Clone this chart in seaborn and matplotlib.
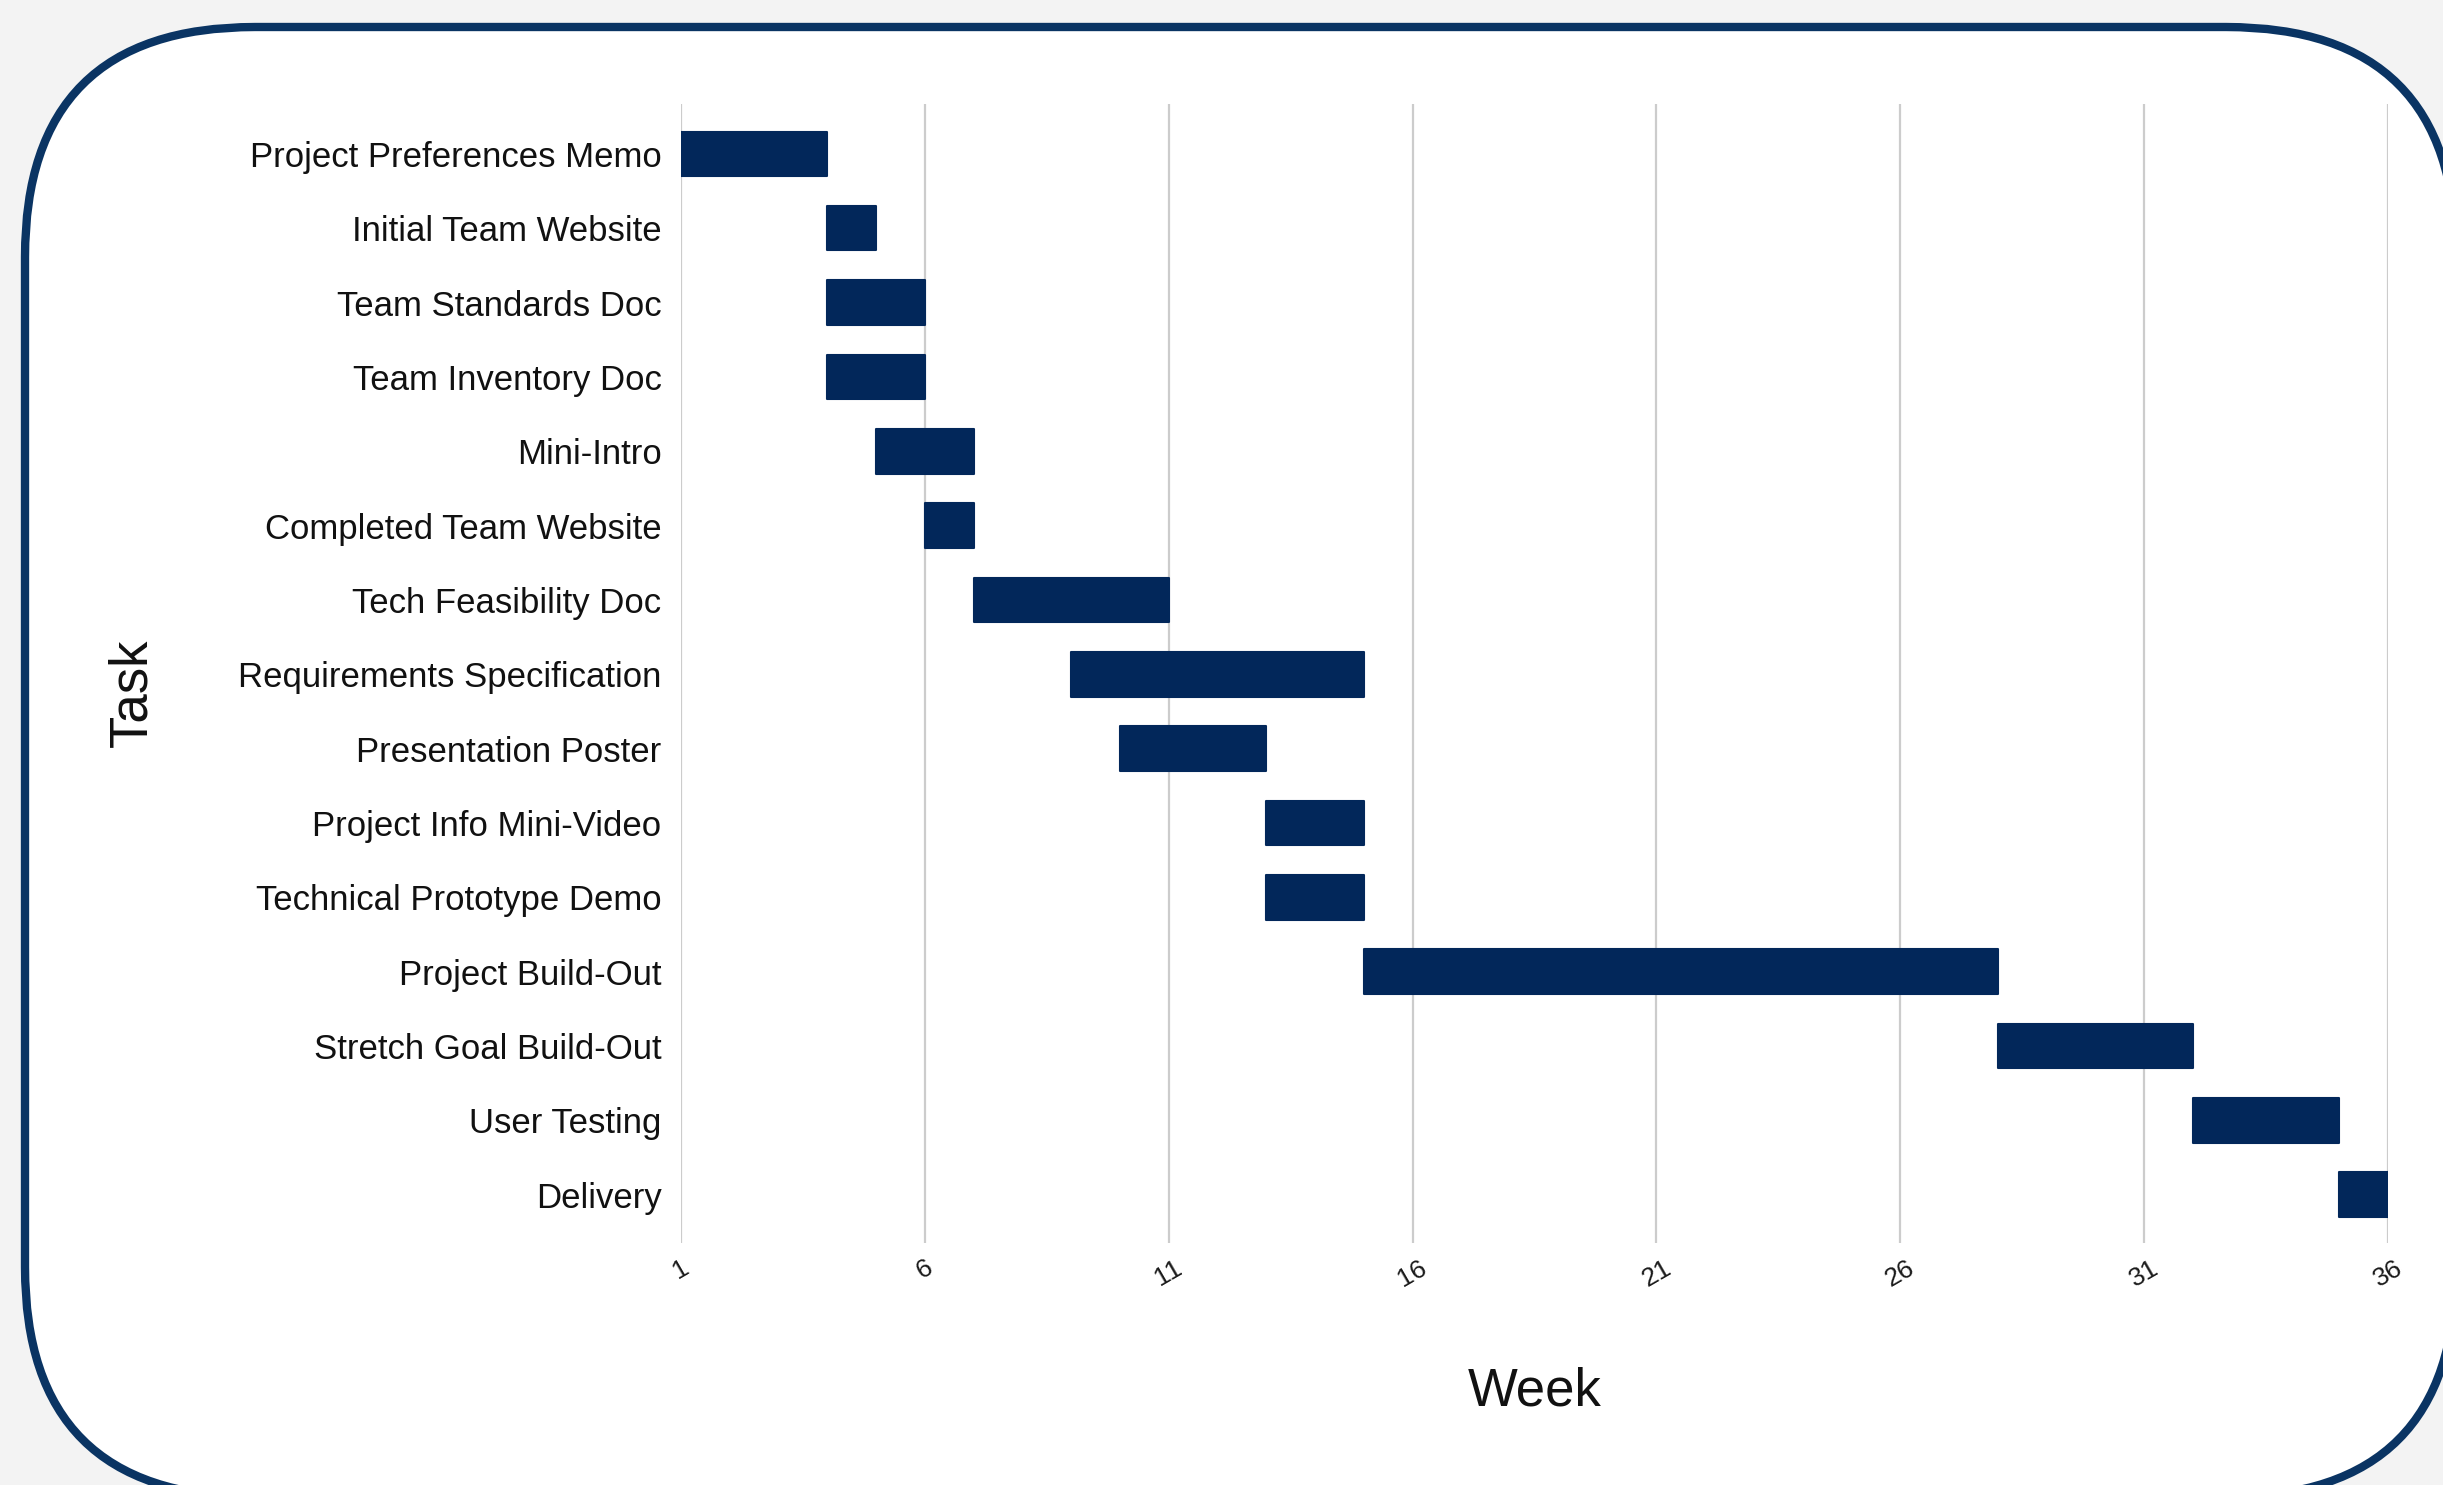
import numpy as np
import pandas as pd
import matplotlib
matplotlib.use("Agg")
import matplotlib.pyplot as plt
import seaborn as sns
from matplotlib.patches import FancyBboxPatch
from matplotlib.transforms import IdentityTransform

# ---- data ----
tasks = [
    "Project Preferences Memo",
    "Initial Team Website",
    "Team Standards Doc",
    "Team Inventory Doc",
    "Mini-Intro",
    "Completed Team Website",
    "Tech Feasibility Doc",
    "Requirements Specification",
    "Presentation Poster",
    "Project Info Mini-Video",
    "Technical Prototype Demo",
    "Project Build-Out",
    "Stretch Goal Build-Out",
    "User Testing",
    "Delivery",
]
start_week = [1, 4, 4, 4, 5, 6, 7, 9, 10, 13, 13, 15, 28, 32, 35]
end_week = [4, 5, 6, 6, 7, 7, 11, 15, 13, 15, 15, 28, 32, 35, 36]
week_ticks = [1, 6, 11, 16, 21, 26, 31, 36]

duration = [e - s for s, e in zip(start_week, end_week)]
df = pd.DataFrame({"Task": tasks, "Start": start_week, "Duration": duration})

NAVY = "#02275a"
BORDER = "#0a3463"

sns.set_theme(style="white")
plt.rcParams["font.family"] = ["Liberation Sans", "DejaVu Sans"]

W, H = 2443, 1485
fig = plt.figure(figsize=(W / 100, H / 100), dpi=100, facecolor="#f3f3f3")

# rounded frame (pixel coordinates)
frame = FancyBboxPatch((25, H - 1497), 2431, 1497 - 27,
                       boxstyle="round,pad=0,rounding_size=230",
                       transform=IdentityTransform(),
                       facecolor="white", edgecolor=BORDER, linewidth=6.0,
                       zorder=-1)
fig.add_artist(frame)

ax_l, ax_r, ax_t, ax_b = 681, 2388, 104, 1243
ax = fig.add_axes([ax_l / W, 1 - ax_b / H, (ax_r - ax_l) / W, (ax_b - ax_t) / H])
ax.set_facecolor("none")

sns.barplot(data=df, y="Task", x="Duration", left=df["Start"].to_numpy(),
            orient="h", order=tasks, color=NAVY, saturation=1, width=0.6,
            edgecolor=NAVY, linewidth=1.5, ax=ax, zorder=3)
for p in ax.patches:
    p.set_joinstyle("round")

ax.set_xlim(1, 36)
ax.set_ylim(14.65, -0.67)
ax.set_xticks(week_ticks)
ax.set_xticklabels([str(t) for t in week_ticks])
ax.grid(axis="x", color="#cccccc", linewidth=1.6, zorder=0)
ax.grid(axis="y", visible=False)
ax.set_axisbelow(True)
sns.despine(ax=ax, left=True, bottom=True)

ax.tick_params(axis="y", length=0, pad=14, labelsize=25, labelcolor="#111111")
ax.tick_params(axis="x", length=0, pad=9, labelsize=19, labelcolor="#1a1a1a",
               labelrotation=30)
for lbl in ax.get_xticklabels():
    lbl.set_ha("center")

ax.set_xlabel("Week", fontsize=38, color="#111111")
ax.xaxis.label.set_va("center")
ax.xaxis.set_label_coords(0.5, -0.130)
ax.set_ylabel("Task", fontsize=38, color="#111111")
ax.yaxis.label.set_va("center")
ax.yaxis.set_label_coords(-0.3216, 0.483)

fig.savefig("out.png", dpi=100, facecolor=fig.get_facecolor())
